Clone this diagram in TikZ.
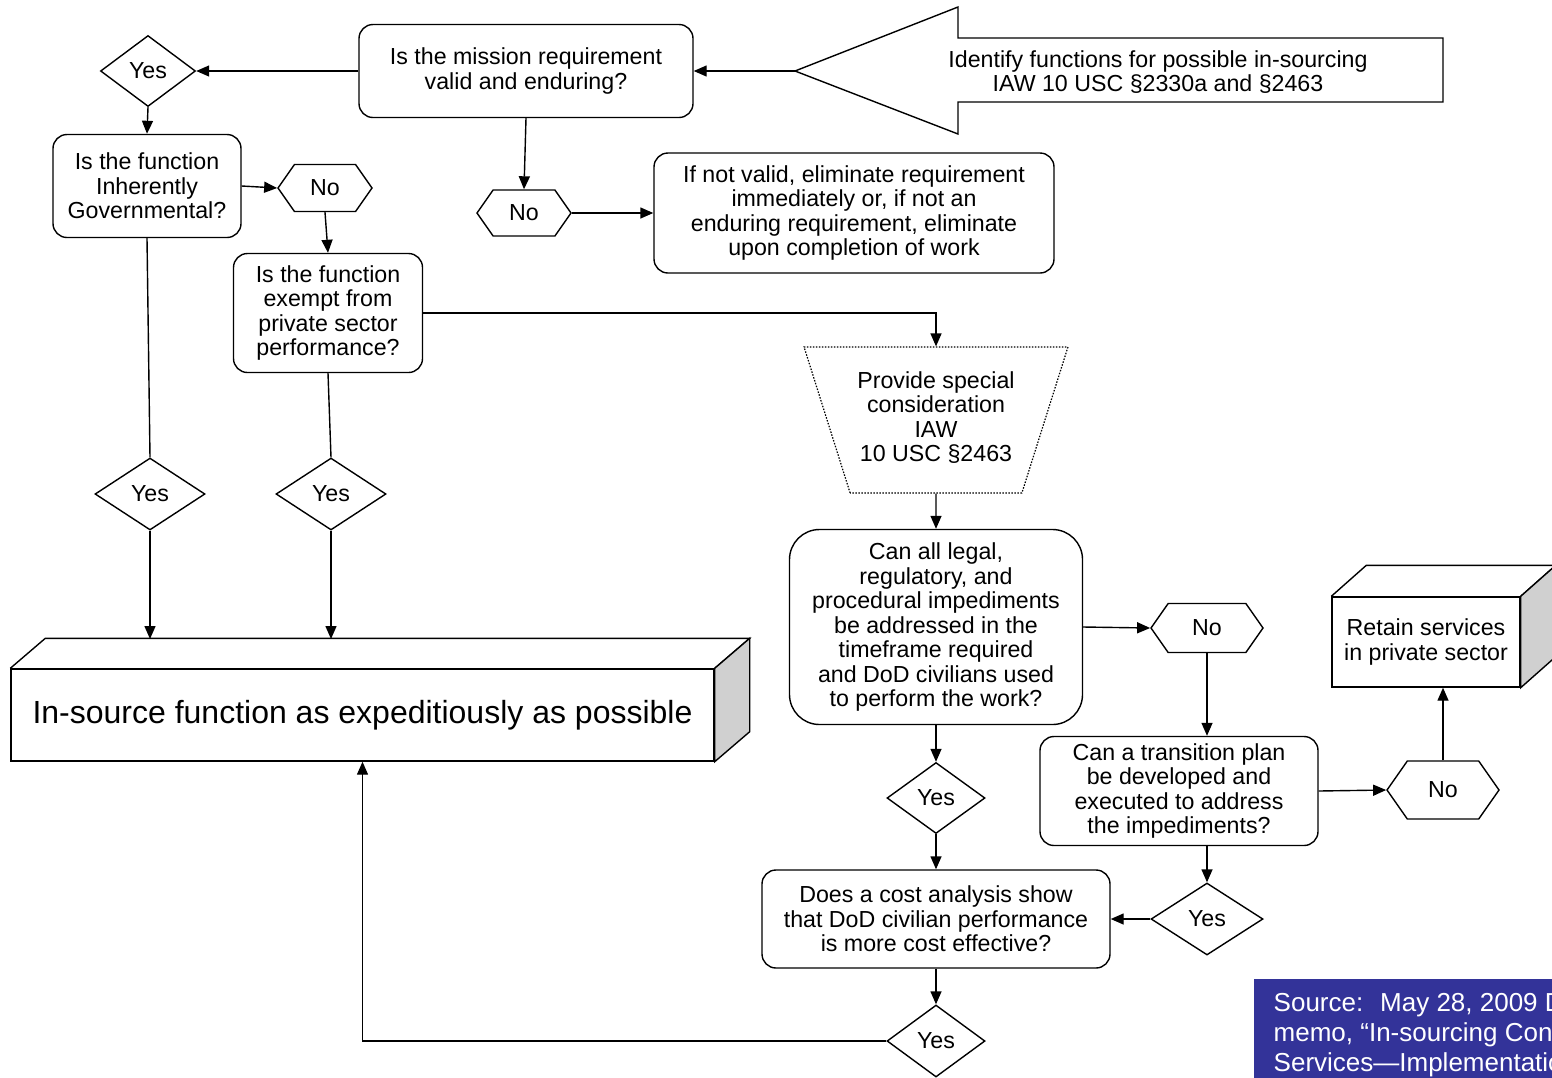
\documentclass[tikz,border=0pt]{standalone}
\usepackage{fontspec}
\setmainfont{Liberation Sans}
\usetikzlibrary{shapes.geometric,shapes.symbols,arrows.meta}
\definecolor{srcblue}{RGB}{51,51,153}
\definecolor{sidegray}{RGB}{208,208,208}

\begin{document}
\begin{tikzpicture}[x=1pt,y=-1pt,line width=1.4pt,
	>={Triangle[length=13pt,width=11pt]},
	every node/.style={font=\fontsize{23.2}{24.5}\selectfont,align=center},
	box/.style={shape=rectangle,draw,rounded corners=14,inner sep=4},
	yes/.style={shape=diamond,draw,inner sep=0},
	no/.style={shape=signal,signal to=east and west,signal pointer angle=110,draw,inner sep=0},
	solid3d/.style={shape=rectangle,draw,fill=white}]
	\useasboundingbox (0,0) rectangle (1552,1077);
	\clip (0,0) rectangle (1552,1077);
	\node(a) at (1158,72) {Identify functions for possible in-sourcing\\IAW 10 USC §2330a and §2463};
	\draw (795,71) -- (958,7) -- (958,38) -- (1443,38) -- (1443,102) -- (958,102) -- (958,134) -- cycle;
	\coordinate(tip) at (795,71);
	\node[box,minimum width=334,minimum height=93](b) at (526,71) {Is the mission requirement\\valid and enduring?};
	\node[yes,minimum width=95,minimum height=71](c) at (148,71) {Yes};
	\node[box,minimum width=188,minimum height=103](d) at (147,186) {Is the function\\Inherently\\Governmental?};
	\node[no,minimum width=94,minimum height=47](e) at (325,188) {No};
	\node[box,minimum width=189,minimum height=119](f) at (328,313) {Is the function\\exempt from\\private sector\\performance?};
	\node[no,minimum width=94,minimum height=46](g) at (524,213) {No};
	\node[box,minimum width=400,minimum height=120](h) at (854,213) {If not valid, eliminate requirement\\immediately or, if not an\\enduring requirement, eliminate\\upon completion of work};
	\node[shape=trapezium,trapezium left angle=113.3,trapezium right angle=113.3,trapezium stretches=true,draw,line width=1.2,dash pattern=on 1.5pt off 1.5pt,minimum width=264,minimum height=146,inner sep=0](i) at (936,420) {\raisebox{11pt}{\begin{tabular}{@{}c@{}}Provide special\\consideration\\IAW\\10 USC §2463\end{tabular}}};
	\node[yes,minimum width=110,minimum height=72](j) at (150,494) {Yes};
	\node[yes,minimum width=110,minimum height=72](k) at (331,494) {Yes};
	\node[solid3d,minimum width=703,minimum height=92,font=\fontsize{32}{36}\selectfont](l) at (362.5,715) {In-source function as expeditiously as possible};
	\draw (l.north west) -- ++(35,-30) -- ([shift={(35,-30)}]l.north east) -- (l.north east);
	\draw[fill=sidegray] (l.north east) -- ++(35,-30) -- ([shift={(35,-30)}]l.south east) -- (l.south east) -- cycle;
	\coordinate(lt) at (362,639);
	\node[box,rounded corners=30,minimum width=293,minimum height=195](m) at (936,627) {Can all legal,\\regulatory, and\\procedural impediments\\be addressed in the\\timeframe required\\and DoD civilians used\\to perform the work?};
	\node[no,minimum width=112,minimum height=49](n) at (1207,628) {No};
	\node[solid3d,minimum width=188,minimum height=90](o) at (1426,642) {Retain services\\in private sector};
	\draw (o.north west) -- ++(35,-31) -- ([shift={(35,-31)}]o.north east) -- (o.north east);
	\draw[fill=sidegray] (o.north east) -- ++(35,-31) -- ([shift={(35,-31)}]o.south east) -- (o.south east) -- cycle;
	\node[box,minimum width=278,minimum height=109](p) at (1179,791) {Can a transition plan\\be developed and\\executed to address\\the impediments?};
	\node[no,minimum width=112,minimum height=58](q) at (1443,790) {No};
	\node[yes,minimum width=98,minimum height=71](r) at (936,798) {Yes};
	\node[yes,minimum width=112,minimum height=72](s) at (1207,919) {Yes};
	\node[box,minimum width=348,minimum height=98](t) at (936,919) {Does a cost analysis show\\that DoD civilian performance\\is more cost effective?};
	\node[yes,minimum width=98,minimum height=72](u) at (936,1041) {Yes};
	\node[fill=srcblue,text=white,anchor=north west,align=left,inner xsep=20,inner ysep=14,font=\fontsize{26}{30}\selectfont](v) at (1253,978) {Source:~ May 28, 2009 DepSecDef\\memo, “In-sourcing Contracted\\Services—Implementation Guidance”};
	\draw[->] (tip) -- (b.east);
	\draw[->] (b.west) -- (c.east);
	\draw[->] (c.south) -- (d.north);
	\draw[->] (b.south) -- (g.north);
	\draw[->] (g.east) -- (h.west);
	\draw[->] (d.east) -- (e.west);
	\draw[->] (e.south) -- (f.north);
	\draw (d.south) -- (j.north);
	\draw (f.south) -- (k.north);
	\draw[->] (j.south) -- (j.south |- lt);
	\draw[->] (k.south) -- (k.south |- lt);
	\draw[->] (f.east) -| (i.north);
	\draw[->] (i.south) -- (m.north);
	\draw[->] (m.east) -- (n.west);
	\draw[->] (n.south) -- (n.south |- p.north);
	\draw[->] (m.south) -- (r.north);
	\draw[->] (r.south) -- (t.north);
	\draw[->] (p.east) -- (q.west);
	\draw[->] (q.north) -- (q.north |- o.south);
	\draw[->] (p.south -| s.north) -- (s.north);
	\draw[->] (s.west) -- (t.east);
	\draw[->] (t.south) -- (u.north);
	\draw[->] (u.west) -| (l.south);
\end{tikzpicture}
\end{document}
